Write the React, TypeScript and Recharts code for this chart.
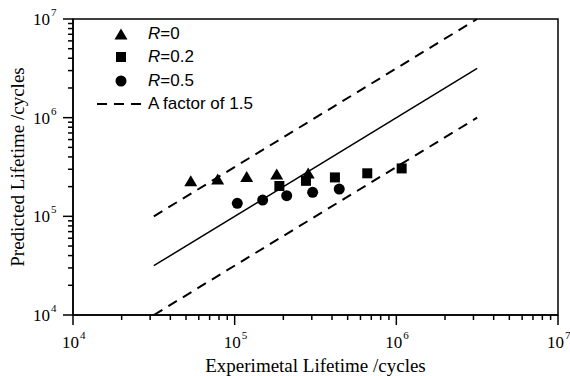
import { ComposedChart, Scatter, Line, XAxis, YAxis, ReferenceArea } from 'recharts'

// measured points (experimental, predicted)
const r0 = [
  { x: 53500, y: 224000 },
  { x: 78500, y: 233000 },
  { x: 118700, y: 248000 },
  { x: 182000, y: 262000 },
  { x: 285000, y: 268000 },
]
const r02 = [
  { x: 189000, y: 203000 },
  { x: 276000, y: 229000 },
  { x: 417000, y: 248000 },
  { x: 661000, y: 273000 },
  { x: 1079000, y: 306000 },
]
const r05 = [
  { x: 103800, y: 135500 },
  { x: 149000, y: 146000 },
  { x: 209800, y: 161800 },
  { x: 303600, y: 175000 },
  { x: 443500, y: 189000 },
]

// y = x and the scatter band
const solidLine = [
  { x: 31623, y: 31623 },
  { x: 3162278, y: 3162278 },
]
const upperLine = [
  { x: 31623, y: 100000 },
  { x: 3162278, y: 10000000 },
]
const lowerLine = [
  { x: 31623, y: 10000 },
  { x: 3162278, y: 1000000 },
]

const logTicks = [
  1e4, 2e4, 3e4, 4e4, 5e4, 6e4, 7e4, 8e4, 9e4,
  1e5, 2e5, 3e5, 4e5, 5e5, 6e5, 7e5, 8e5, 9e5,
  1e6, 2e6, 3e6, 4e6, 5e6, 6e6, 7e6, 8e6, 9e6,
  1e7,
]

const serif = '"Liberation Serif", "Times New Roman", serif'
const sans = '"Liberation Sans", Arial, sans-serif'

const isMajor = (v: number) => {
  const e = Math.log10(v)
  return Math.abs(e - Math.round(e)) < 1e-6
}

const XTick = ({ x, y, payload }: any) => {
  const v = payload.value
  const major = isMajor(v)
  return (
    <g>
      <line x1={x} x2={x} y1={y} y2={y + (major ? 10 : 5)} stroke="#000" strokeWidth={1.5} />
      {major && (
        <text fontFamily={serif} fill="#000">
          <tspan x={x + 6} y={y + 33} fontSize={17} textAnchor="end">10</tspan>
          <tspan x={x + 7} y={y + 24} fontSize={11} textAnchor="start">{Math.round(Math.log10(v))}</tspan>
        </text>
      )}
    </g>
  )
}

const YTick = ({ x, y, payload }: any) => {
  const v = payload.value
  const major = isMajor(v)
  return (
    <g>
      <line x1={x} x2={x - (major ? 10 : 5)} y1={y} y2={y} stroke="#000" strokeWidth={1.5} />
      {major && (
        <text fontFamily={serif} fill="#000">
          <tspan x={x - 23} y={y + 6} fontSize={17} textAnchor="end">10</tspan>
          <tspan x={x - 22} y={y - 3} fontSize={11} textAnchor="start">{Math.round(Math.log10(v))}</tspan>
        </text>
      )}
    </g>
  )
}

const Triangle = ({ cx, cy }: any) => (
  <polygon points={`${cx},${cy - 6.5} ${cx - 6.5},${cy + 4.5} ${cx + 6.5},${cy + 4.5}`} fill="#000" />
)
const Square = ({ cx, cy }: any) => <rect x={cx - 5} y={cy - 5} width={10} height={10} fill="#000" />
const Dot = ({ cx, cy }: any) => <circle cx={cx} cy={cy} r={5.5} fill="#000" />

const legendRows = [
  { key: 'r0', label: '0', marker: 'triangle' },
  { key: 'r02', label: '0.2', marker: 'square' },
  { key: 'r05', label: '0.5', marker: 'circle' },
]

const ChartLegend = () => (
  <div style={{ position: 'absolute', left: 94, top: 22, fontFamily: sans, fontSize: 17, color: '#000' }}>
    {legendRows.map((r) => (
      <div key={r.key} style={{ display: 'flex', alignItems: 'center', height: 23.5 }}>
        <svg width={50} height={20}>
          {r.marker === 'triangle' && <Triangle cx={27} cy={11} />}
          {r.marker === 'square' && <Square cx={27} cy={10} />}
          {r.marker === 'circle' && <Dot cx={27} cy={10} />}
        </svg>
        <span style={{ marginLeft: 4 }}>
          <i>R</i>={r.label}
        </span>
      </div>
    ))}
    <div style={{ display: 'flex', alignItems: 'center', height: 23.5 }}>
      <svg width={50} height={20}>
        <line x1={3} x2={47} y1={10} y2={10} stroke="#000" strokeWidth={2} strokeDasharray="10 7" />
      </svg>
      <span style={{ marginLeft: 4 }}>A factor of 1.5</span>
    </div>
  </div>
)

export default function App() {
  return (
    <div style={{ position: 'absolute', left: 0, top: 0, width: 570, height: 376, background: '#fff' }}>
      <ComposedChart width={570} height={376} margin={{ top: 19, right: 12, bottom: 0, left: 13 }}>
        <XAxis
          type="number"
          dataKey="x"
          scale="log"
          domain={[1e4, 1e7]}
          allowDataOverflow
          ticks={logTicks}
          interval={0}
          tick={<XTick />}
          tickLine={false}
          tickSize={0}
          tickMargin={0}
          height={61}
          axisLine={{ stroke: '#000', strokeWidth: 1.5 }}
          label={{
            value: 'Experimetal Lifetime /cycles',
            position: 'insideBottom',
            offset: 4,
            style: { fontFamily: serif, fontSize: 19, fill: '#000' },
          }}
        />
        <YAxis
          type="number"
          dataKey="y"
          scale="log"
          domain={[1e4, 1e7]}
          allowDataOverflow
          ticks={logTicks}
          interval={0}
          tick={<YTick />}
          tickLine={false}
          tickSize={0}
          tickMargin={0}
          width={60}
          axisLine={{ stroke: '#000', strokeWidth: 1.5 }}
          label={{
            content: () => (
              <text
                transform="translate(24,167) rotate(-90)"
                textAnchor="middle"
                fontFamily={serif}
                fontSize={19}
                fill="#000"
              >
                Predicted Lifetime /cycles
              </text>
            ),
          }}
        />
        <ReferenceArea x1={1e4} x2={1e7} y1={1e4} y2={1e7} fill="none" stroke="#000" strokeWidth={1.5} />
        <Line data={upperLine} dataKey="y" stroke="#000" strokeWidth={2} strokeDasharray="10 7" dot={false} isAnimationActive={false} />
        <Line data={solidLine} dataKey="y" stroke="#000" strokeWidth={1.5} dot={false} isAnimationActive={false} />
        <Line data={lowerLine} dataKey="y" stroke="#000" strokeWidth={2} strokeDasharray="10 7" dot={false} isAnimationActive={false} />
        <Scatter data={r0} shape={<Triangle />} isAnimationActive={false} />
        <Scatter data={r02} shape={<Square />} isAnimationActive={false} />
        <Scatter data={r05} shape={<Dot />} isAnimationActive={false} />
      </ComposedChart>
      <ChartLegend />
    </div>
  )
}
